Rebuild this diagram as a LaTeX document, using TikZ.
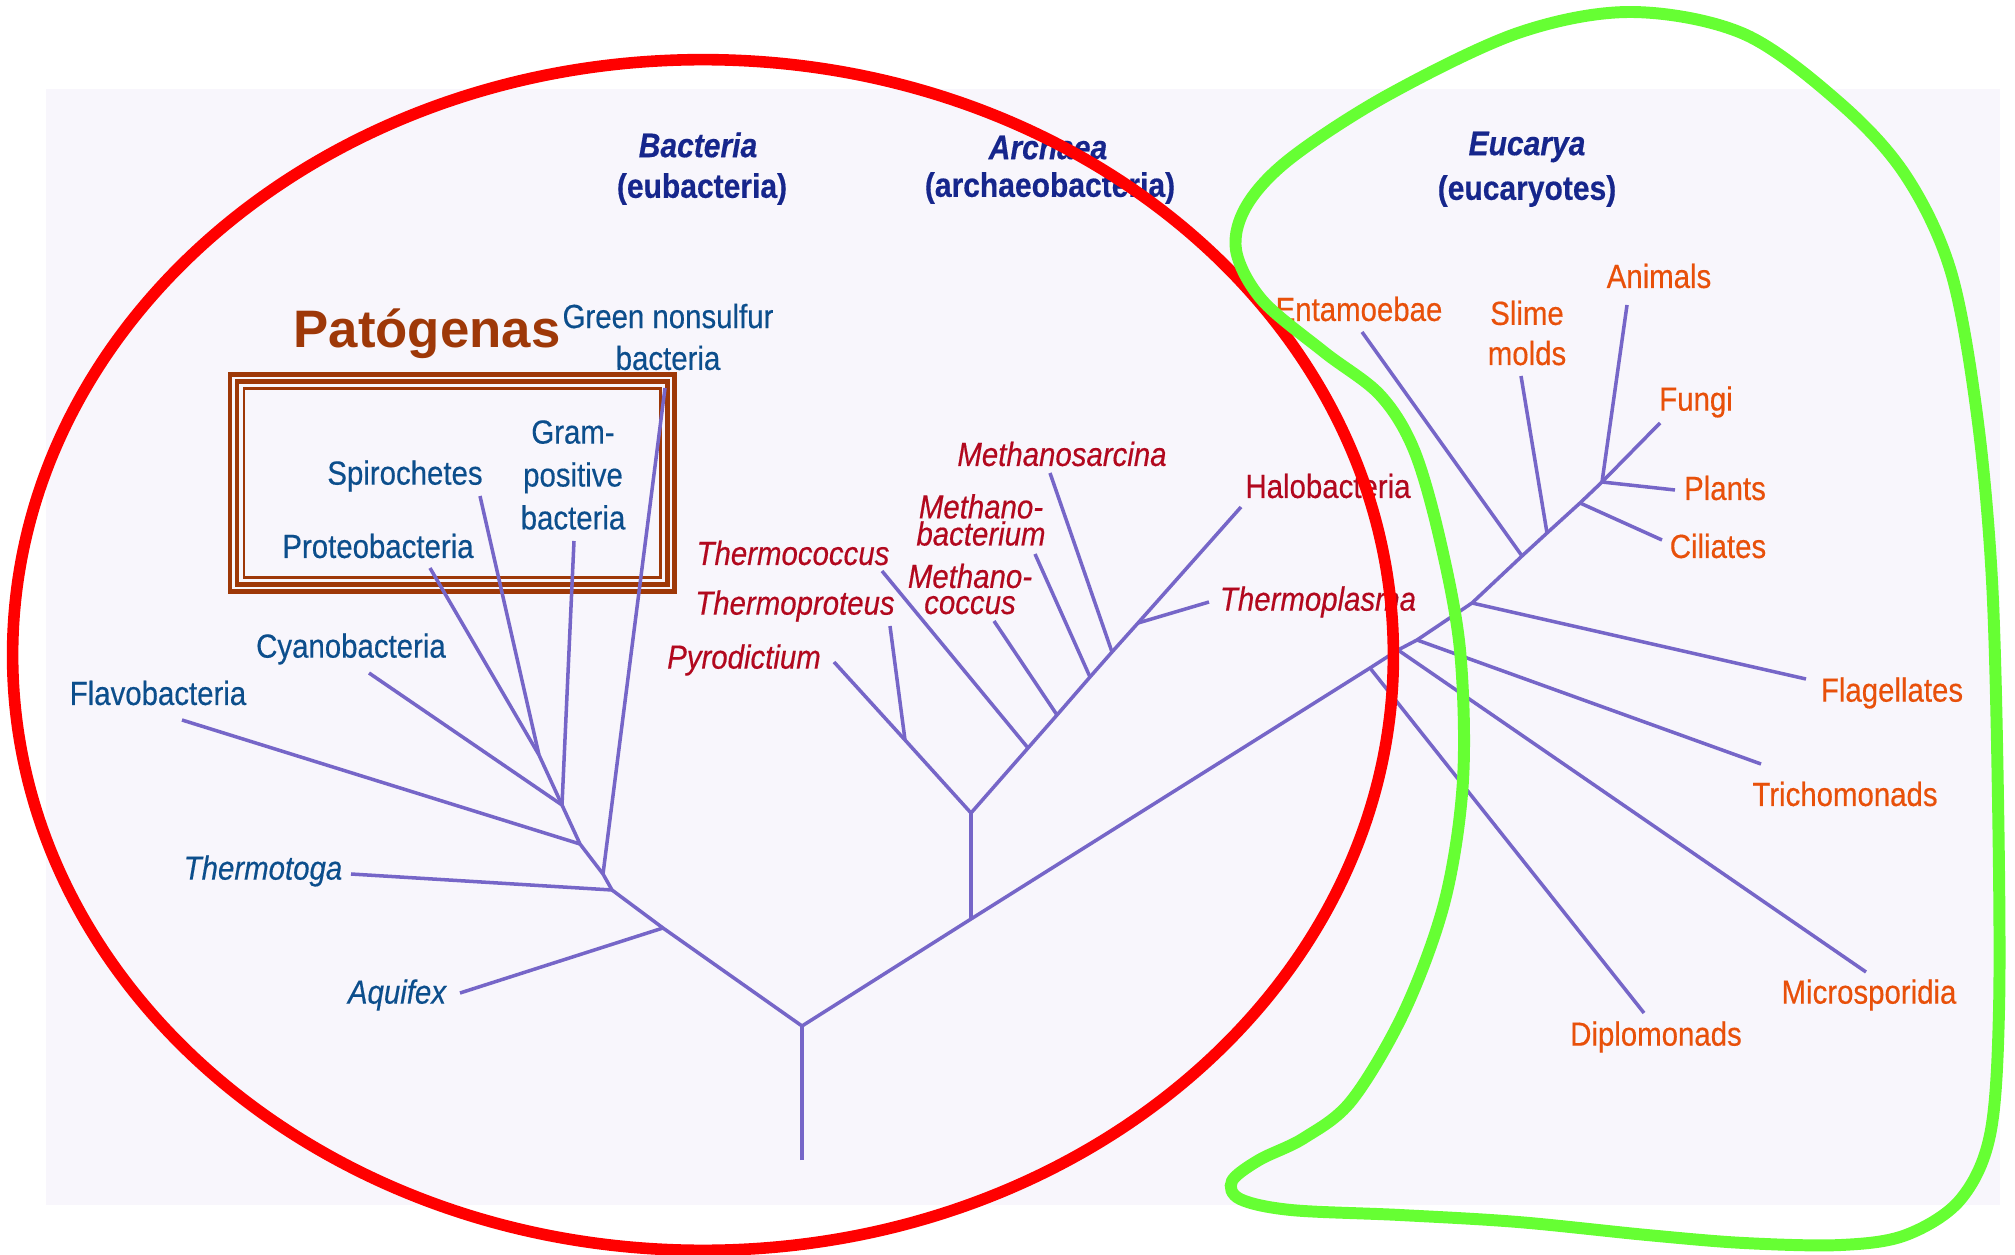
\documentclass[tikz,border=0pt]{standalone}
\usepackage{fontspec}
\setmainfont{Liberation Sans}[FakeStretch=0.88, FakeBold=0.4]
\newfontfamily\patfont{Liberation Sans}
\definecolor{bgcol}{RGB}{248,246,252}
\definecolor{treecol}{RGB}{118,102,200}
\definecolor{bactblue}{RGB}{12,78,140}
\definecolor{headblue}{RGB}{22,38,140}
\definecolor{archred}{RGB}{178,8,30}
\definecolor{eukorange}{RGB}{232,80,10}
\definecolor{brownc}{RGB}{158,56,8}
\definecolor{ellred}{RGB}{255,0,0}
\definecolor{blobgreen}{RGB}{102,255,51}
\tikzset{
  lbl/.style={inner sep=0pt, align=center, font=\fontsize{9.5}{12.2}\selectfont},
  ilbl/.style={inner sep=0pt, align=center, font=\fontsize{9.5}{12.2}\selectfont\itshape},
  bact/.style={lbl, text=bactblue},
  ibact/.style={ilbl, text=bactblue},
  arch/.style={lbl, text=archred},
  iarch/.style={ilbl, text=archred},
  euk/.style={lbl, text=eukorange},
  head/.style={inner sep=0pt, text=headblue, font=\fontsize{9.7}{12.4}\selectfont\bfseries},
  branch/.style={draw=treecol, line width=1pt, line join=round},
  band/.style={draw=brownc},
}
\begin{document}
\begin{tikzpicture}[x=0.01cm,y=-0.01cm]
\useasboundingbox (0,0) rectangle (2015,1255);
\fill[bgcol] (46,89) rectangle (2000,1205);

% ---- pathogen frame
\draw[band, line width=1.42pt] (230,374.5) rectangle (674.5,591.5);
\draw[band, line width=1.42pt] (237,381.5) rectangle (667.5,584.5);
\draw[band, line width=0.85pt] (244,388.5) rectangle (660.5,577.5);

% ---- tree coordinates
\coordinate (root) at (802,1160);
\coordinate (R) at (802,1026);
% bacteria
\coordinate (Jaq) at (663,928);
\coordinate (Jtt) at (612,890);
\coordinate (Jgn) at (603,874);
\coordinate (Jfl) at (580,844);
\coordinate (Jcy) at (562,805);
\coordinate (Jps) at (539,755);
\coordinate (taq) at (460,993);
\coordinate (ttt) at (351,874);
\coordinate (tgn) at (665,388);
\coordinate (tfl) at (182,720);
\coordinate (tcy) at (369,673);
\coordinate (tgp) at (574,541);
\coordinate (tpr) at (430,568);
\coordinate (tsp) at (480,496);
% archaea
\coordinate (A0) at (971,919);
\coordinate (A) at (971,813);
\coordinate (Jtp) at (905,740);
\coordinate (tpy) at (834,662);
\coordinate (ttp) at (890,626);
\coordinate (Jtc) at (1028,748);
\coordinate (Jmc) at (1057,715);
\coordinate (Jmb) at (1090,677);
\coordinate (Jms) at (1112,652);
\coordinate (Jtl) at (1138,623);
\coordinate (thb) at (1241,507);
\coordinate (ttc) at (882,571);
\coordinate (tmc) at (994,621);
\coordinate (tmb) at (1035,554);
\coordinate (tms) at (1050,473);
\coordinate (ttl) at (1209,602);
% eukarya
\coordinate (Ed) at (1370,668);
\coordinate (Em) at (1398,650);
\coordinate (Et) at (1417,640);
\coordinate (Ef) at (1472,603);
\coordinate (Ee) at (1522,556);
\coordinate (Es) at (1547,533);
\coordinate (Ec) at (1580,503);
\coordinate (Ep) at (1602,482);
\coordinate (tfu) at (1660,423);
\coordinate (tdi) at (1644,1013);
\coordinate (tmi) at (1866,972);
\coordinate (ttr) at (1761,764);
\coordinate (tfg) at (1806,679);
\coordinate (ten) at (1362,332);
\coordinate (tsl) at (1521,376);
\coordinate (tci) at (1662,540);
\coordinate (tpl) at (1675,490);
\coordinate (tan) at (1627,305);

% ---- tree branches
\draw[branch] (root) -- (R);
\draw[branch] (R) -- (Jaq) -- (Jtt) -- (Jgn) -- (Jfl) -- (Jcy) -- (Jps);
\draw[branch] (Jaq) -- (taq);
\draw[branch] (Jtt) -- (ttt);
\draw[branch] (Jgn) -- (tgn);
\draw[branch] (Jfl) -- (tfl);
\draw[branch] (Jcy) -- (tcy);
\draw[branch] (Jcy) -- (tgp);
\draw[branch] (Jps) -- (tpr);
\draw[branch] (Jps) -- (tsp);
\draw[branch] (R) -- (A0) -- (Ed) -- (Em) -- (Et) -- (Ef) -- (Ee) -- (Es) -- (Ec) -- (Ep) -- (tfu);
\draw[branch] (A0) -- (A);
\draw[branch] (A) -- (Jtp) -- (tpy);
\draw[branch] (Jtp) -- (ttp);
\draw[branch] (A) -- (Jtc) -- (Jmc) -- (Jmb) -- (Jms) -- (Jtl) -- (thb);
\draw[branch] (Jtc) -- (ttc);
\draw[branch] (Jmc) -- (tmc);
\draw[branch] (Jmb) -- (tmb);
\draw[branch] (Jms) -- (tms);
\draw[branch] (Jtl) -- (ttl);
\draw[branch] (Ed) -- (tdi);
\draw[branch] (Em) -- (tmi);
\draw[branch] (Et) -- (ttr);
\draw[branch] (Ef) -- (tfg);
\draw[branch] (Ee) -- (ten);
\draw[branch] (Es) -- (tsl);
\draw[branch] (Ec) -- (tci);
\draw[branch] (Ep) -- (tpl);
\draw[branch] (Ep) -- (tan);

% ---- headings
\node[head] (hb1) at (698,145) {\itshape Bacteria};
\node[head] (hb2) at (702,189) {(eubacteria)};
\node[head] (ha1) at (1048,147) {\itshape Archaea};
\node[head] (ha2) at (1050,188) {(archaeobacteria)};
\node[head] (he1) at (1527,147) {\itshape Eucarya};
\node[head] (he2) at (1527,191) {(eucaryotes)};

% ---- bacteria labels
\node[inner sep=0pt, text=brownc, font=\fontsize{15}{17}\patfont\bfseries] (pat) at (427,334) {Patógenas};
\node[bact, font=\fontsize{9.5}{11.9}\selectfont] (lgn) at (668,337) {Green nonsulfur\\bacteria};
\node[bact] (lgp) at (573,475) {Gram-\\positive\\bacteria};
\node[bact] (lsp) at (405,476) {Spirochetes};
\node[bact] (lpr) at (378,546) {Proteobacteria};
\node[bact] (lcy) at (351,649) {Cyanobacteria};
\node[bact] (lfl) at (158,693) {Flavobacteria};
\node[ibact] (ltt) at (263,871) {Thermotoga};
\node[ibact] (laq) at (397,995) {Aquifex};

% ---- archaea labels
\node[iarch] (lms) at (1062,454) {Methanosarcina};
\node[iarch, font=\fontsize{9.5}{7.7}\selectfont\itshape] (lmb) at (981,520) {Methano-\\bacterium};
\node[iarch] (ltc) at (793,553) {Thermococcus};
\node[iarch, font=\fontsize{9.5}{7.4}\selectfont\itshape] (lmc) at (970,589) {Methano-\\coccus};
\node[iarch] (ltp) at (795,606) {Thermoproteus};
\node[iarch] (lpy) at (744,660) {Pyrodictium};
\node[arch] (lhb) at (1328,486) {Halobacteria};
\node[iarch] (ltl) at (1318,602) {Thermoplasma};

% ---- eukarya labels
\node[euk] (len) at (1359,309) {Entamoebae};
\node[euk, font=\fontsize{9.5}{11.4}\selectfont] (lsl) at (1527,333) {Slime\\molds};
\node[euk] (lan) at (1659,276) {Animals};
\node[euk] (lfu) at (1696,402) {Fungi};
\node[euk] (lpl) at (1725,488) {Plants};
\node[euk] (lci) at (1718,546) {Ciliates};
\node[euk] (lfg) at (1892,693) {Flagellates};
\node[euk] (ltr) at (1845,794) {Trichomonads};
\node[euk] (lmi) at (1869,995) {Microsporidia};
\node[euk] (ldi) at (1656,1037) {Diplomonads};

% ---- highlight outlines
\draw[ellred, line width=3.3pt] (703,655) ellipse [x radius=6.9cm, y radius=5.95cm];
\draw[blobgreen, line width=3.4pt] plot[smooth cycle, tension=0.55] coordinates {
 (1631,12) (1744,34) (1841,104) (1906,176) (1951,272) (1977,415) (1992,581)
 (1998,800) (1999,1010) (1990,1135) (1960,1200) (1906,1235) (1841,1245)
 (1744,1243) (1647,1235) (1518,1222) (1400,1215) (1291,1210) (1240,1199)
 (1232,1181) (1259,1160) (1304,1138) (1352,1100) (1405,1010) (1445,900)
 (1463,780) (1460,650) (1440,540) (1414,450) (1380,395) (1324,352)
 (1262,300) (1236,250) (1247,205) (1291,158) (1388,95) (1518,33)};
\end{tikzpicture}
\end{document}
